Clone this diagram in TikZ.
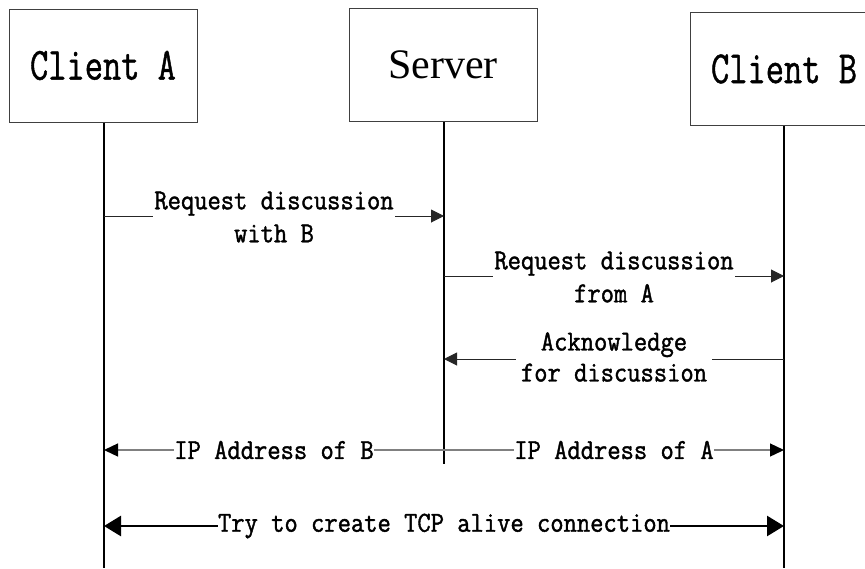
\documentclass[tikz,border=0pt]{standalone}
\usepackage{fontspec}
\usetikzlibrary{arrows.meta}
% narrow serif typewriter faces for the titles and the message labels
\newfontfamily\titlefont[FakeStretch=0.77,FakeBold=1.0]{Latin Modern Mono}
\newfontfamily\labelfont[FakeStretch=0.89,FakeBold=1.4]{Latin Modern Mono}
\newfontfamily\serverfont{Liberation Serif}

\tikzset{
  actor/.style={draw=black!75, line width=1pt, minimum width=188pt, minimum height=113pt,
                inner sep=0pt, font=\titlefont\fontsize{46}{46}\selectfont},
  lifeline/.style={draw=black, line width=1.8pt},
  msg/.style={draw=black!85, line width=1pt, -{Triangle[length=13pt,width=13pt]}},
  ipmsg/.style={draw=black!50, line width=1.3pt, -{Triangle[length=14pt,width=13pt,color=black]}},
  tcpmsg/.style={draw=black, line width=2.6pt, {Triangle[length=17pt,width=20pt]}-{Triangle[length=17pt,width=20pt]}},
  lbl/.style={fill=white, inner xsep=1pt, inner ysep=0pt, align=center,
              font=\labelfont\fontsize{29}{33}\selectfont},
}

\begin{document}
\begin{tikzpicture}[x=1pt, y=-1pt]
  \clip (0,0) rectangle (865,568);

  % participants
  \node[actor] (A) at (103,65.5) {Client A};
  \node[actor, font=\serverfont\fontsize{42}{42}\selectfont] (S) at (443,65) {Server};
  \node[actor] (B) at (784,69) {Client B};

  % lifeline ends
  \coordinate (Aend) at (104,568);
  \coordinate (Send) at (444,464);
  \coordinate (Bend) at (784,568);
  \draw[lifeline] (A.south -| Aend) -- (Aend);
  \draw[lifeline] (S.south -| Send) -- (Send);
  \draw[lifeline] (B.south -| Bend) -- (Bend);

  % points on the lifelines where the messages start and end
  \coordinate (a1) at (104,216);  \coordinate (s1) at (444,216);
  \coordinate (s2) at (444,276);  \coordinate (b2) at (784,276);
  \coordinate (b3) at (784,359);  \coordinate (s3) at (444,359);
  \coordinate (a4) at (104,450);  \coordinate (s4) at (444,450);  \coordinate (b4) at (784,450);
  \coordinate (a5) at (104,526);  \coordinate (b5) at (784,526);

  % messages
  \draw[msg] (a1) -- node[lbl, yshift=-1pt] (m1) {Request discussion\\with B} (s1);
  \draw[msg] (s2) -- node[lbl, yshift=-1pt] (m2) {Request discussion\\from A} (b2);
  \draw[msg] (b3) -- node[lbl, yshift=2pt, inner xsep=5pt, font=\labelfont\fontsize{29}{31}\selectfont] (m3) {Acknowledge\\for discussion} (s3);
  \draw[ipmsg] (s4) -- node[lbl, inner xsep=0pt] (m4) {IP Address of B} (a4);
  \draw[ipmsg] (s4) -- node[lbl, inner xsep=0pt] (m5) {IP Address of A} (b4);
  \draw[tcpmsg] (a5) -- node[lbl, inner xsep=0pt] (m6) {Try to create TCP alive connection} (b5);
\end{tikzpicture}
\end{document}
